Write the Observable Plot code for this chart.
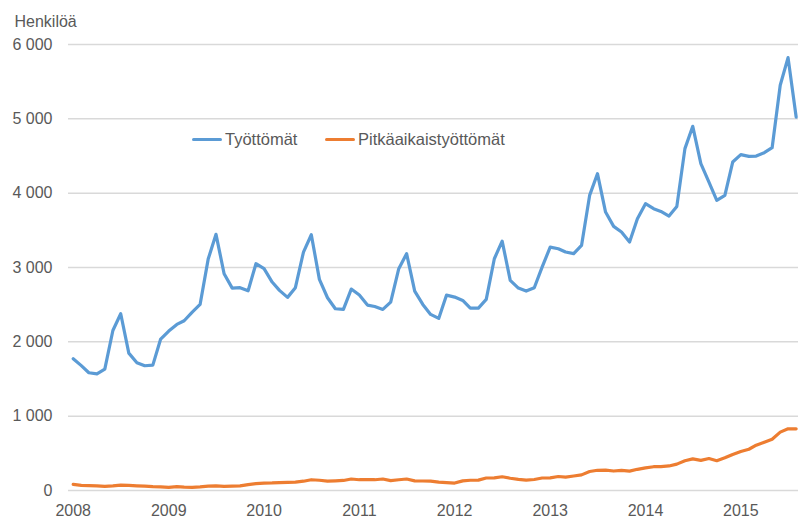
<!DOCTYPE html>
<html>
<head>
<meta charset="utf-8">
<script src="https://cdn.jsdelivr.net/npm/d3@7"></script>
<script src="https://cdn.jsdelivr.net/npm/@observablehq/plot@0.6"></script>
<style>
  html, body { margin: 0; padding: 0; background: #fff; }
  #wrap { position: relative; width: 798px; height: 519px; font-family: "Liberation Sans", Arial, sans-serif; color: #595959; }
  .leg { position: absolute; top: 130px; font-size: 16.5px; display: flex; align-items: center; white-space: nowrap; }
  .leg span.sw { display: inline-block; width: 30px; height: 3px; border-radius: 2px; margin-right: 3px; }
</style>
</head>
<body>
<div id="wrap"></div>
<script>
// Monthly, Jan 2008 – Aug 2015
const startMonth = "2008-01";
const tyottomat = [
  1772,1680,1584,1570,1633,2153,2378,1848,1719,1678,1687,2037,
  2145,2234,2284,2400,2503,3113,3446,2916,2723,2728,2687,3051,
  2984,2804,2692,2598,2728,3208,3441,2840,2593,2445,2436,2710,
  2629,2494,2476,2436,2534,2984,3186,2683,2503,2369,2315,2629,
  2602,2557,2454,2454,2571,3118,3355,2826,2723,2683,2728,3005,
  3275,3253,3208,3186,3297,3970,4262,3746,3553,3477,3342,3657,
  3859,3791,3755,3692,3822,4599,4899,4397,4149,3903,3970,4419,
  4518,4495,4499,4545,4612,5451,5823,5024
];
const pitkaaikaistyottomat = [
  82,70,65,62,55,62,72,68,62,58,52,50,
  42,52,45,42,48,58,62,55,60,62,80,92,
  100,102,106,110,112,125,145,138,125,130,135,155,
  145,145,145,155,132,145,155,130,128,125,112,105,
  100,130,138,140,168,170,185,165,150,140,148,168,
  170,188,180,195,210,255,272,275,262,270,260,285,
  305,320,322,330,355,400,425,405,430,400,440,485,
  525,555,610,650,690,785,830,830
];
const seriesNames = ["Työttömät", "Pitkäaikaistyöttömät"];
const seriesColors = ["#5b9bd5", "#ed7d31"];
const yearTicks = [2008, 2009, 2010, 2011, 2012, 2013, 2014, 2015];
const yTicks = [0, 1000, 2000, 3000, 4000, 5000, 6000];
const yTitle = "Henkilöä";

const t0 = d3.utcParse("%Y-%m")(startMonth);
const months = tyottomat.map((_, i) => d3.utcMonth.offset(t0, i));
const rows = [];
[tyottomat, pitkaaikaistyottomat].forEach((arr, s) => {
  arr.forEach((v, i) => rows.push({date: months[i], value: v, series: seriesNames[s]}));
});

const fmt = d => d3.format(",")(d).replace(/,/g, "\u00a0");
const xTickDates = yearTicks.map(y => new Date(Date.UTC(y, 0, 1)));

const chart = Plot.plot({
  width: 798,
  height: 519,
  marginLeft: 68,
  marginRight: 0,
  marginTop: 44,
  marginBottom: 29,
  style: {fontFamily: "'Liberation Sans', Arial, sans-serif", fontSize: "16px", color: "#595959", background: "#fff"},
  x: {
    type: "utc",
    domain: [new Date(Date.UTC(2007, 11, 14)), new Date(Date.UTC(2015, 7, 10))],
    label: null
  },
  y: {
    domain: [0, 6000],
    label: null
  },
  color: {domain: seriesNames, range: seriesColors},
  marks: [
    Plot.gridY(yTicks, {stroke: "#d9d9d9", strokeOpacity: 1, strokeWidth: 1.5}),
    Plot.axisX({ticks: xTickDates, tickFormat: d3.utcFormat("%Y"), tickSize: 0, tickPadding: 14, fill: "#595959", fontSize: 16, label: null}),
    Plot.axisY({ticks: yTicks, tickFormat: fmt, tickSize: 0, tickPadding: 16, fill: "#595959", fontSize: 16, label: null}),
    Plot.line(rows, {x: "date", y: "value", z: "series", stroke: "series", strokeWidth: 3.2, strokeLinejoin: "round", strokeLinecap: "round", clip: true}),
    Plot.text([yTitle], {frameAnchor: "top-left", textAnchor: "start", dx: -54, dy: -29, fill: "#595959", fontSize: 16})
  ]
});

const wrap = document.getElementById("wrap");
wrap.appendChild(chart);

// Legend
const legPos = [192, 325];
seriesNames.forEach((n, i) => {
  const d = document.createElement("div");
  d.className = "leg";
  d.style.left = legPos[i] + "px";
  d.innerHTML = `<span class="sw" style="background:${seriesColors[i]}"></span><span>${n}</span>`;
  wrap.appendChild(d);
});
</script>
</body>
</html>
